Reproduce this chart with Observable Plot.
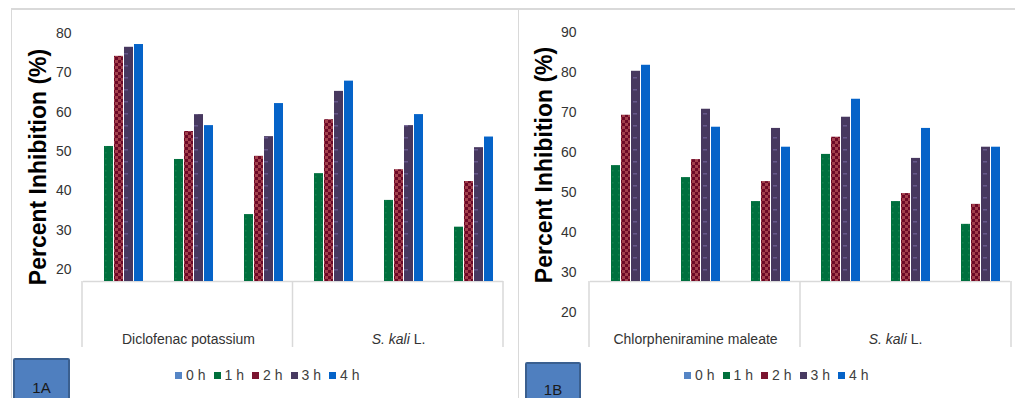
<!DOCTYPE html>
<html>
<head>
<meta charset="utf-8">
<script src="https://cdn.jsdelivr.net/npm/d3@7"></script>
<script src="https://cdn.jsdelivr.net/npm/@observablehq/plot@0.6"></script>
<style>
  html, body { margin: 0; padding: 0; background: #fff; }
  body { width: 1015px; height: 398px; position: relative; overflow: hidden;
         font-family: "Liberation Sans", Arial, sans-serif; }
  .abs { position: absolute; }
  .panel-top { left: 11px; top: 8px; width: 1004px; height: 0; border-top: 2px solid #d9d9d9; }
  .panel-left { left: 11px; top: 9px; width: 0; height: 400px; border-left: 1.5px solid #d9d9d9; }
  .panel-mid { left: 518px; top: 9px; width: 0; height: 400px; border-left: 1.5px solid #d9d9d9; }
  .chart { top: 0; }
  .chart svg { display: block; }
  .legend-item { position: absolute; top: 367px; font-size: 14px; color: #404040; white-space: nowrap; line-height: 16px; }
  .legend-item .sw { display: inline-block; width: 7px; height: 7px; margin-right: 4px; vertical-align: 1px; }
  .tag { background: #4f7fbf; border: 2px solid #3a5f8f; box-sizing: border-box; color: #1a1a1a;
         font-size: 15px; text-align: center; border-radius: 2px; }
</style>
</head>
<body>
<svg width="0" height="0" style="position:absolute">
  <defs>
    <pattern id="patGreen" width="6" height="6" patternUnits="userSpaceOnUse">
      <rect width="6" height="6" fill="#006f3e"/>
      <rect x="2" y="2" width="1.5" height="1.5" fill="#11804c"/>
    </pattern>
    <pattern id="patRed" width="6" height="6" patternUnits="userSpaceOnUse">
      <rect width="6" height="6" fill="#6c0826"/>
      <rect width="3" height="3" fill="#a3404c"/>
      <rect x="3" y="3" width="3" height="3" fill="#a3404c"/>
    </pattern>
    <pattern id="patPurple" width="10" height="12" patternUnits="userSpaceOnUse">
      <rect width="10" height="12" fill="#47385f"/>
      <rect x="3" y="5" width="4" height="1.5" fill="#66578a"/>
    </pattern>
  </defs>
</svg>

<div class="abs panel-top"></div>
<div class="abs panel-left"></div>
<div class="abs panel-mid"></div>
<div id="chartA" class="abs chart" style="left:0px;"></div>
<div id="chartB" class="abs chart" style="left:519px;"></div>
<div id="legendA"></div>
<div id="legendB"></div>
<div class="abs tag" style="left:13px; top:358px; width:57px; height:50px; line-height:56px;">1A</div>
<div class="abs tag" style="left:525px; top:362px; width:56px; height:50px; line-height:52px;">1B</div>

<script>
// ---------- data ----------
const timePoints = ["0 h", "1 h", "2 h", "3 h", "4 h"];

// Panel 1A
const groupsA = ["DP-1", "DP-2", "DP-3", "SK-1", "SK-2", "SK-3"];
const groupLabelsA = ["", "Diclofenac potassium", "", "", "S. kali L.", ""];
const a0h = [];
const a1h = [51.3, 48.0, 34.0, 44.4, 37.6, 30.8];
const a2h = [74.2, 55.1, 48.8, 58.1, 45.4, 42.4];
const a3h = [76.5, 59.4, 53.8, 65.3, 56.6, 51.0];
const a4h = [77.2, 56.6, 62.2, 67.9, 59.4, 53.7];
const yTicksA = [20, 30, 40, 50, 60, 70, 80];
const yDomainA = [17, 80];

// Panel 1B
const groupsB = ["CM-1", "CM-2", "CM-3", "SK-1", "SK-2", "SK-3"];
const groupLabelsB = ["", "Chlorpheniramine maleate", "", "", "S. kali L.", ""];
const b0h = [];
const b1h = [56.7, 53.7, 47.7, 59.5, 47.7, 42.0];
const b2h = [69.3, 58.2, 52.7, 63.8, 49.7, 47.0];
const b3h = [80.3, 70.8, 66.0, 68.8, 58.5, 61.3];
const b4h = [81.8, 66.3, 61.3, 73.3, 66.0, 61.3];
const yTicksB = [20, 30, 40, 50, 60, 70, 80, 90];
const yDomainB = [27.7, 90];

const yTitle = "Percent Inhibition (%)";

// ---------- styles ----------
const barFills = ["#5585c5", "url(#patGreen)", "url(#patRed)", "url(#patPurple)", "#0563c8"];
const legendColors = ["#5585c5", "#00703c", "#7b1530", "#483a62", "#0563c8"];

function buildRows(groups, seriesList) {
  const rows = [];
  seriesList.forEach((vals, t) => {
    vals.forEach((v, i) => rows.push({group: groups[i], time: timePoints[t], value: v}));
  });
  return rows;
}

function makePanel(opt) {
  const rows = buildRows(opt.groups, opt.series);
  const labelOf = new Map(opt.groups.map((g, i) => [g, opt.labels[i]]));
  const chart = Plot.plot({
    width: opt.width, height: 398,
    marginLeft: opt.marginLeft, marginRight: opt.marginRight,
    marginTop: opt.marginTop, marginBottom: 117,
    style: {fontFamily: "'Liberation Sans', Arial, sans-serif", fontSize: "14px",
            color: "#333", background: "none", overflow: "visible"},
    fx: {domain: opt.groups, padding: 0, axis: "bottom", tickSize: 0, tickPadding: 53,
         tickFormat: d => labelOf.get(d), label: null},
    x: {domain: timePoints, paddingInner: 0.1, paddingOuter: 0.89, axis: null},
    y: {domain: opt.yDomain, ticks: opt.yTicks, tickSize: 0, tickPadding: opt.tickPadding, label: null},
    color: {domain: timePoints, range: barFills},
    marks: [
      Plot.ruleY([opt.yDomain[0]], {stroke: "#d9d9d9", strokeWidth: 1.5}),
      Plot.barY(rows, {fx: "group", x: "time", y: "value", fill: "time", clip: true})
    ]
  });
  const svg = d3.select(chart);
  // category box dividers from fx scale
  const fx = chart.scale("fx");
  const ys = chart.scale("y");
  const x0 = Math.min(...fx.range), x1 = Math.max(...fx.range);
  const step = (x1 - x0) / fx.domain.length;
  const yBase = Math.max(...ys.range);
  [0, 3, 6].forEach(k => {
    svg.append("line")
      .attr("x1", x0 + k * step).attr("x2", x0 + k * step)
      .attr("y1", yBase).attr("y2", yBase + 66)
      .attr("stroke", "#d9d9d9").attr("stroke-width", 1.5);
  });
  // italic species name
  svg.selectAll("text").each(function() {
    if (this.textContent === "S. kali L.") {
      const t = d3.select(this);
      t.text(null);
      t.append("tspan").attr("font-style", "italic").text("S. kali");
      t.append("tspan").text(" L.");
      if (opt.sDx) t.attr("dx", opt.sDx);
    }
  });
  // y title
  svg.append("text")
    .attr("transform", `translate(${opt.titleX},${opt.titleY}) rotate(-90)`)
    .attr("text-anchor", "middle")
    .attr("dominant-baseline", "central")
    .attr("font-weight", "bold")
    .attr("font-size", 23)
    .attr("fill", "#000")
    .text(yTitle);
  document.getElementById(opt.id).appendChild(chart);
}

makePanel({id: "chartA", groups: groupsA, labels: groupLabelsA,
  series: [a0h, a1h, a2h, a3h, a4h], yDomain: yDomainA, yTicks: yTicksA,
  width: 519, marginLeft: 82, marginRight: 16, marginTop: 33, tickPadding: 12,
  titleX: 38, titleY: 167});

makePanel({id: "chartB", groups: groupsB, labels: groupLabelsB,
  series: [b0h, b1h, b2h, b3h, b4h], yDomain: yDomainB, yTicks: yTicksB,
  width: 496, marginLeft: 70, marginRight: 4, marginTop: 32, tickPadding: 14,
  titleX: 25, titleY: 165, sDx: -10});

function makeLegend(id, left) {
  const host = document.getElementById(id);
  timePoints.forEach((t, i) => {
    const item = document.createElement("div");
    item.className = "legend-item";
    item.style.left = (left + i * 38.5) + "px";
    const sw = document.createElement("span");
    sw.className = "sw";
    sw.style.background = legendColors[i];
    item.appendChild(sw);
    item.appendChild(document.createTextNode(t));
    host.appendChild(item);
  });
}
makeLegend("legendA", 175);
makeLegend("legendB", 684);
</script>
</body>
</html>
